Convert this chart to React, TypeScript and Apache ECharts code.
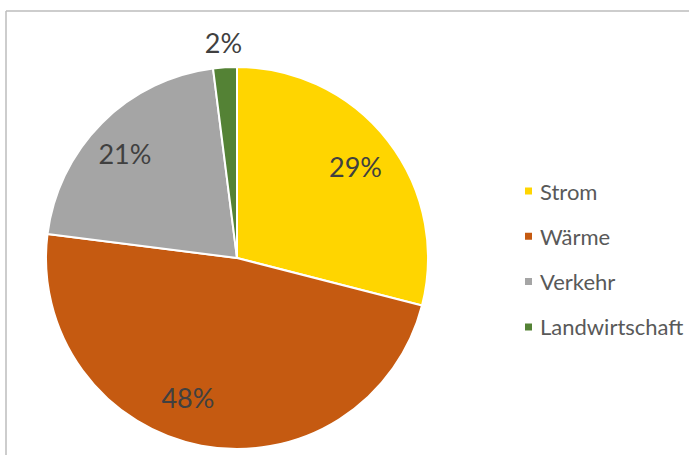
import React, { useEffect, useRef } from "react";
import * as echarts from "echarts";

const categories = ["Strom", "Wärme", "Verkehr", "Landwirtschaft"];
const values = [29, 48, 21, 2];
const colors = ["#FFD500", "#C55A11", "#A5A5A5", "#548235"];
// which label ring each slice label belongs to (inner = inside slice, outer = outside)
const labelRing = ["inner", "inner", "inner", "outer"];
const labelOffsets: Record<string, number[]> = { "Wärme": [-21, -8], "Verkehr": [-6, 2] };

const FONT = "Lato, 'Open Sans', sans-serif";
const CX = 237;
const CY = 258;
const R = 191;

export default function App() {
  const ref = useRef<HTMLDivElement>(null);
  useEffect(() => {
    document.body.style.margin = "0";
    const chart = echarts.init(ref.current!, null, { renderer: "svg" });
    const labelStyle = {
      color: "#404040",
      fontFamily: FONT,
      fontSize: 27,
    };
    const ringData = (ring: string) =>
      categories.map((name, i) => ({
        name,
        value: values[i],
        label: {
          show: labelRing[i] === ring,
          offset: labelOffsets[name] || [0, 0],
        },
      }));
    chart.setOption({
      animation: false,
      backgroundColor: "#ffffff",
      legend: {
        orient: "vertical",
        left: 523,
        top: 180,
        padding: 0,
        itemWidth: 9,
        itemHeight: 9,
        itemGap: 23.3,
        icon: "rect",
        selectedMode: false,
        textStyle: {
          color: "#595959",
          fontFamily: FONT,
          fontSize: 22,
          lineHeight: 22,
          padding: [0, 0, 0, 2],
        },
        data: categories.map((name, i) => ({ name, itemStyle: { color: colors[i] } })),
      },
      graphic: [
        { type: "line", shape: { x1: 6, y1: 11, x2: 700, y2: 11 }, style: { stroke: "#BDBDBD", lineWidth: 1.5 } },
        { type: "line", shape: { x1: 6, y1: 11, x2: 6, y2: 470 }, style: { stroke: "#BDBDBD", lineWidth: 1.5 } },
      ],
      series: [
        {
          type: "pie",
          name: "main",
          center: [CX, CY],
          radius: [0, R],
          startAngle: 90,
          clockwise: true,
          silent: true,
          avoidLabelOverlap: false,
          label: { show: false },
          labelLine: { show: false },
          itemStyle: { borderColor: "#ffffff", borderWidth: 2 },
          data: categories.map((name, i) => ({ name, value: values[i], itemStyle: { color: colors[i] } })),
        },
        {
          type: "pie",
          name: "innerLabels",
          center: [CX, CY],
          radius: [103, R],
          startAngle: 90,
          clockwise: true,
          silent: true,
          avoidLabelOverlap: false,
          itemStyle: { color: "rgba(0,0,0,0)" },
          label: { position: "inside", formatter: "{c}%", ...labelStyle },
          labelLine: { show: false },
          data: ringData("inner"),
        },
        {
          type: "pie",
          name: "outerLabels",
          center: [CX, CY],
          radius: [R, 235],
          startAngle: 90,
          clockwise: true,
          silent: true,
          avoidLabelOverlap: false,
          itemStyle: { color: "rgba(0,0,0,0)" },
          label: { position: "inside", formatter: "{c}%", ...labelStyle },
          labelLine: { show: false },
          data: ringData("outer"),
        },
      ],
    });
    return () => chart.dispose();
  }, []);
  return <div ref={ref} style={{ position: "absolute", left: 0, top: 0, width: 689, height: 455 }} />;
}
